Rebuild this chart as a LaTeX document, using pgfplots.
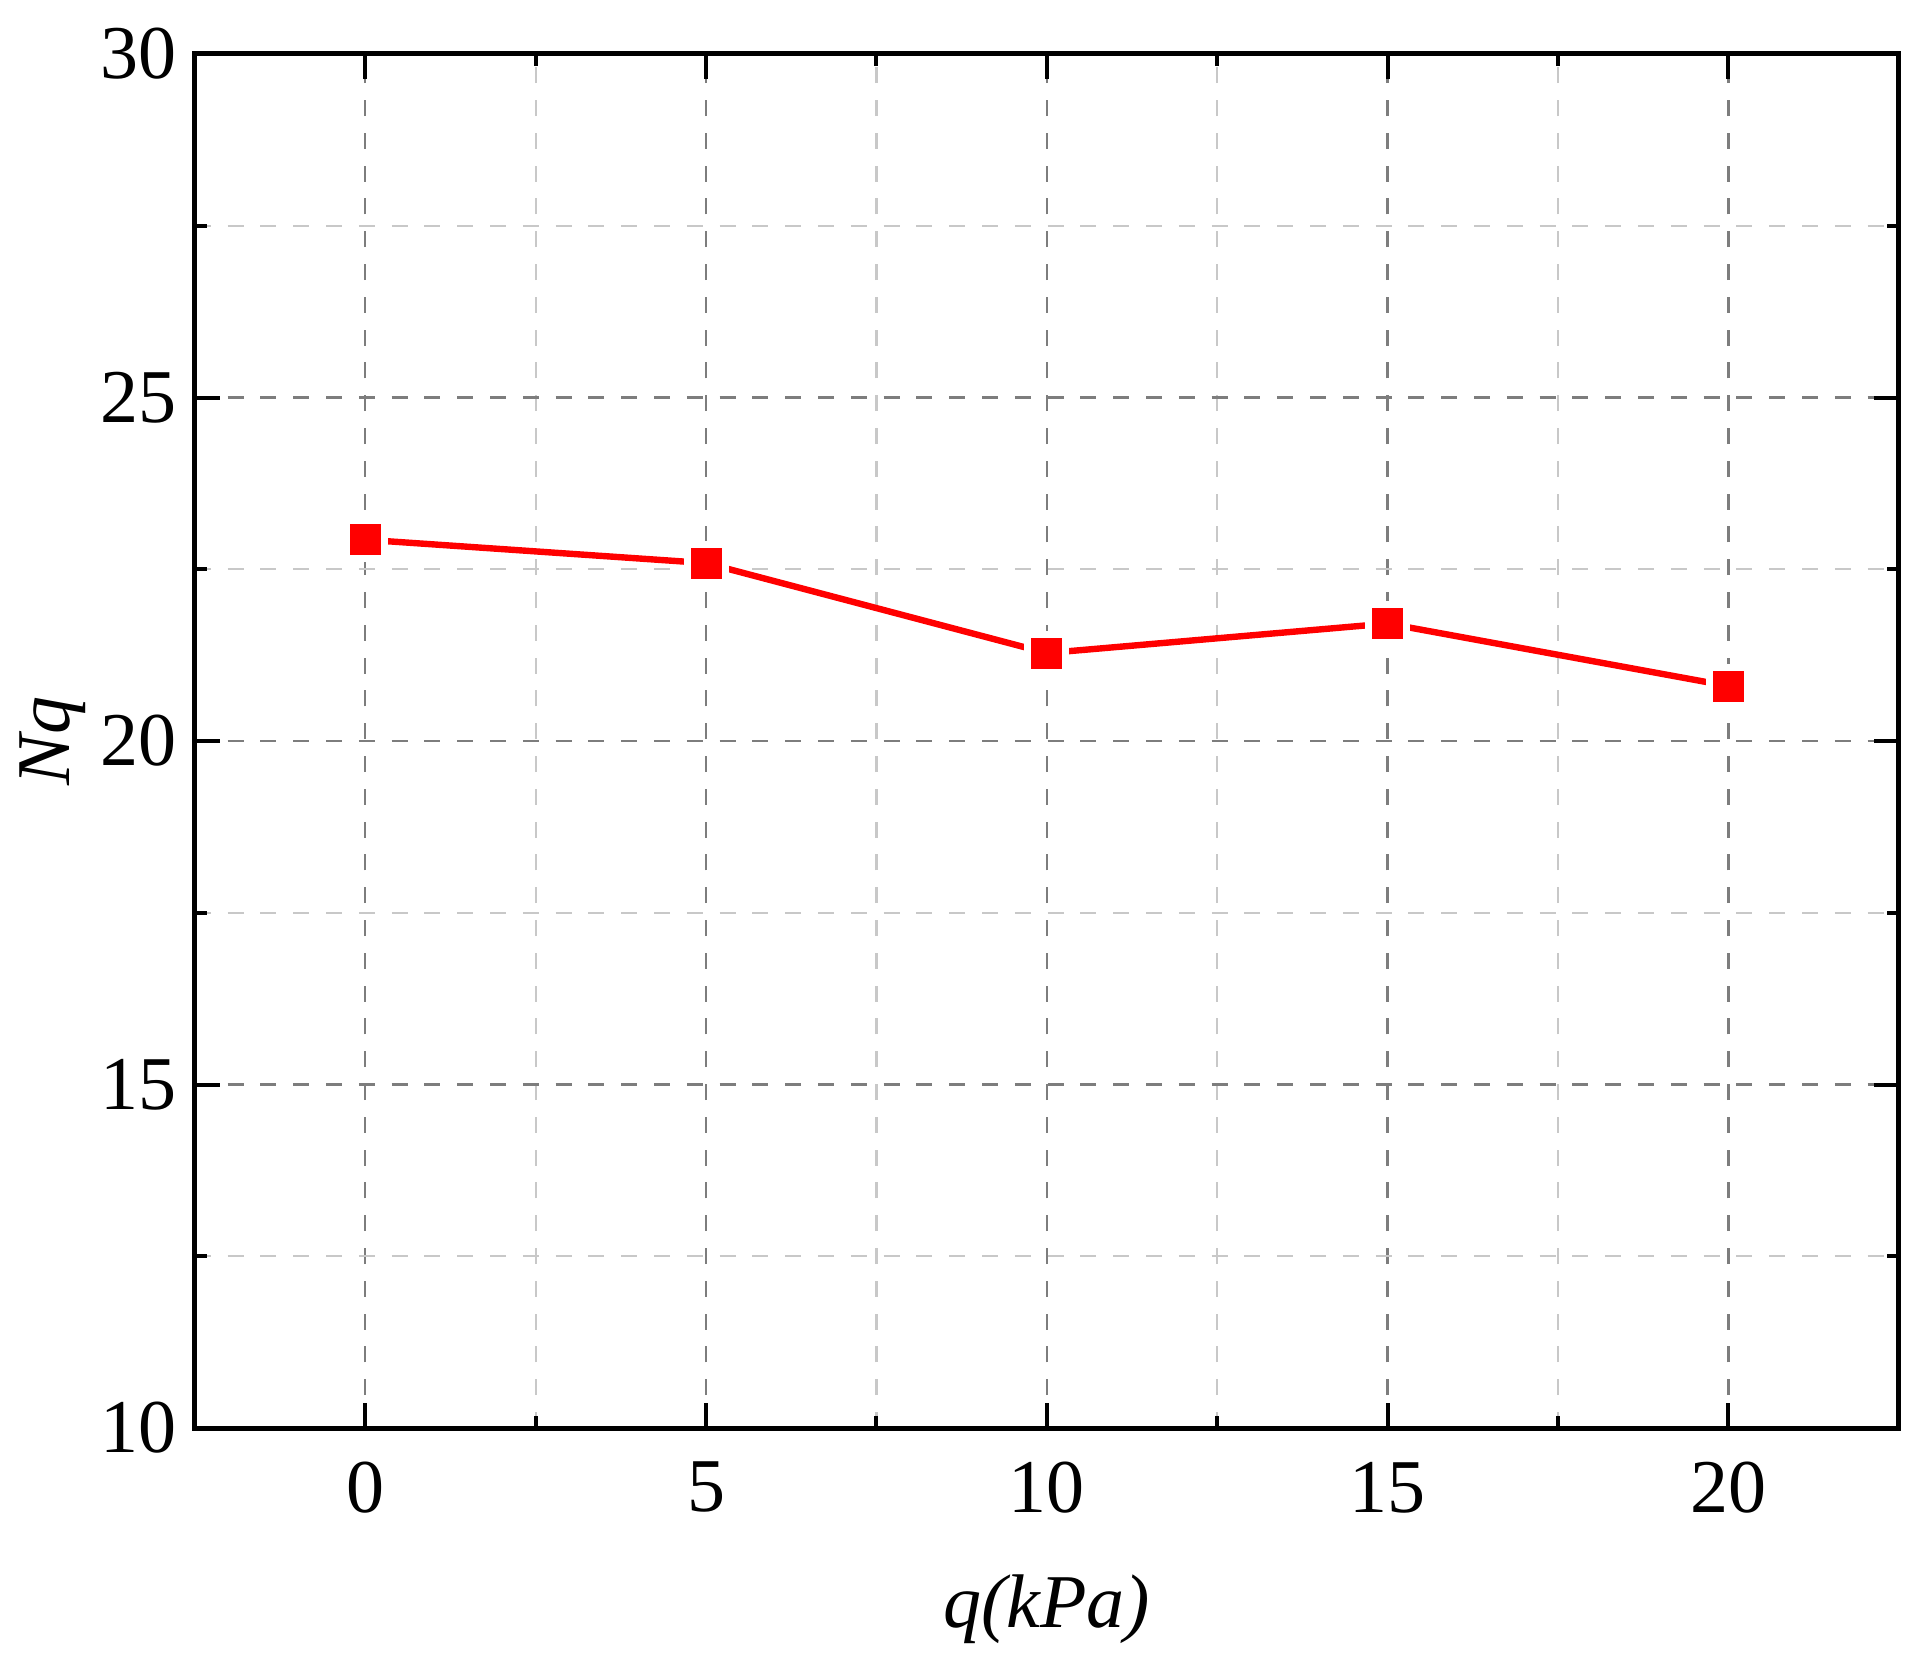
\documentclass[border=0pt]{standalone}
\usepackage{fontspec}
\setmainfont{Liberation Serif}
\usepackage{pgfplots}
\pgfplotsset{compat=1.18}
\begin{document}
\begin{tikzpicture}
\begin{axis}[
  width=426pt, height=343.5pt, scale only axis,
  xmin=-2.5, xmax=22.5, ymin=10, ymax=30,
  xtick={0,5,10,15,20}, ytick={10,15,20,25,30},
  minor xtick={2.5,7.5,12.5,17.5}, minor ytick={12.5,17.5,22.5,27.5},
  tick align=inside, xtick pos=both, ytick pos=both,
  major tick length=6.25pt, minor tick length=3pt,
  every tick/.style={black, line width=1pt},
  axis line style={line width=1.25pt},
  grid=both,
  major grid style={dash pattern=on 4pt off 4.2pt, line width=0.6pt, color={rgb,255:red,125;green,125;blue,125}},
  minor grid style={dash pattern=on 4pt off 4.2pt, line width=0.55pt, color={rgb,255:red,200;green,200;blue,200}},
  /pgf/number format/assume math mode=true,
  tick label style={font=\fontsize{19}{23}\selectfont},
  xticklabel style={yshift=-5pt},
  yticklabel style={xshift=-1pt},
  label style={font=\fontsize{19}{23}\selectfont\itshape},
  xlabel={q(kPa)}, ylabel={Nq},
  xlabel style={yshift=-8.5pt},
  ylabel style={yshift=-3pt},
]
\addplot[red, line width=1.6pt, no marks] coordinates {(0,22.93) (5,22.59) (10,21.28) (15,21.71) (20,20.80)};
\addplot[white, only marks, mark=square*, mark size=5.5pt, mark options={fill=white, draw=white, line width=0pt}] coordinates {(0,22.93) (5,22.59) (10,21.28) (15,21.71) (20,20.80)};
\addplot[red, only marks, mark=square*, mark size=3.75pt, mark options={fill=red, draw=red, line width=0pt}] coordinates {(0,22.93) (5,22.59) (10,21.28) (15,21.71) (20,20.80)};
\end{axis}
\path ([shift={(-48.7pt,-58.5pt)}]current axis.south west) rectangle ([shift={(8.3pt,13.5pt)}]current axis.north east);
\end{tikzpicture}
\end{document}
